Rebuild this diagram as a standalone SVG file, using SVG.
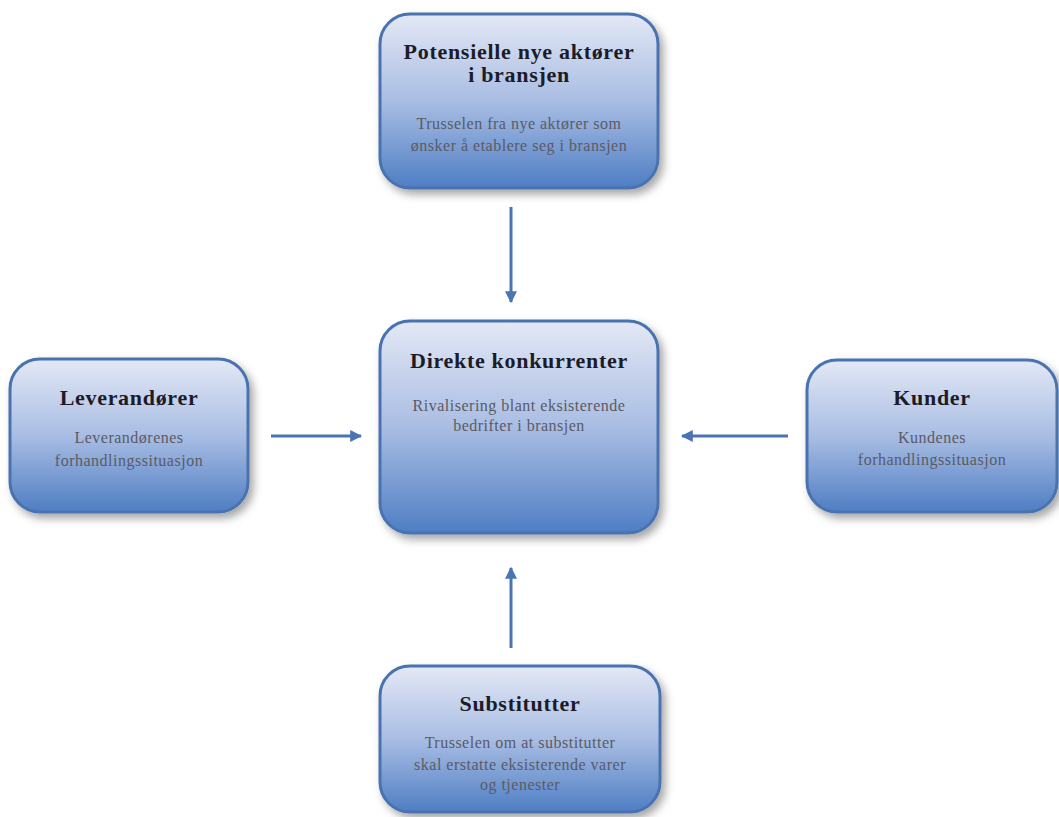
<svg xmlns="http://www.w3.org/2000/svg" width="1059" height="817" viewBox="0 0 1059 817">
<defs>
<linearGradient id="g" x1="0" y1="0" x2="0" y2="1">
<stop offset="0" stop-color="#e3e8f5"/>
<stop offset="0.5" stop-color="#a9bde3"/>
<stop offset="1" stop-color="#4e7ec4"/>
</linearGradient>
<filter id="sh" x="-10%" y="-10%" width="125%" height="130%">
<feDropShadow dx="4" dy="5" stdDeviation="4" flood-color="#000" flood-opacity="0.35"/>
</filter>
<marker id="ah" viewBox="0 0 10 10" refX="9" refY="5" markerWidth="4" markerHeight="4" orient="auto">
<path d="M0,0 L10,5 L0,10 z" fill="#4a74b4"/>
</marker>
<style>
.box{fill:url(#g);stroke:#4a72b0;stroke-width:3;filter:url(#sh)}
.t{font-family:"Liberation Serif",serif;font-weight:bold;font-size:22px;letter-spacing:0.7px;fill:#1c1c28;text-anchor:middle}
.s{font-family:"Liberation Serif",serif;font-size:16px;letter-spacing:0.5px;fill:#5a5a66;text-anchor:middle}
.c{stroke:#4a74b4;stroke-width:3;fill:none;marker-end:url(#ah)}
</style>
</defs>
<rect width="1059" height="817" fill="#fff"/>
<g id="connectors">
<line class="c" x1="511" y1="207" x2="511" y2="302"/>
<line class="c" x1="271" y1="436" x2="361" y2="436"/>
<line class="c" x1="788" y1="436" x2="682" y2="436"/>
<line class="c" x1="511" y1="648" x2="511" y2="568"/>
</g>
<g id="nye">
<rect class="box" x="380" y="14" width="278" height="174" rx="30"/>
<text class="t" x="519" y="59">Potensielle nye aktører</text>
<text class="t" x="519" y="82">i bransjen</text>
<text class="s" x="519" y="129">Trusselen fra nye aktører som</text>
<text class="s" x="519" y="151">ønsker å etablere seg i bransjen</text>
</g>
<g id="direkte">
<rect class="box" x="380" y="321" width="278" height="212" rx="30"/>
<text class="t" x="519" y="368">Direkte konkurrenter</text>
<text class="s" x="519" y="411">Rivalisering blant eksisterende</text>
<text class="s" x="519" y="431">bedrifter i bransjen</text>
</g>
<g id="leverandorer">
<rect class="box" x="10" y="359" width="238" height="153" rx="30"/>
<text class="t" x="129" y="405">Leverandører</text>
<text class="s" x="129" y="443">Leverandørenes</text>
<text class="s" x="129" y="466">forhandlingssituasjon</text>
</g>
<g id="kunder">
<rect class="box" x="807" y="360" width="250" height="152" rx="30"/>
<text class="t" x="932" y="405">Kunder</text>
<text class="s" x="932" y="443">Kundenes</text>
<text class="s" x="932" y="465">forhandlingssituasjon</text>
</g>
<g id="substitutter">
<rect class="box" x="380" y="666" width="280" height="146" rx="30"/>
<text class="t" x="520" y="711">Substitutter</text>
<text class="s" x="520" y="748">Trusselen om at substitutter</text>
<text class="s" x="520" y="770">skal erstatte eksisterende varer</text>
<text class="s" x="520" y="790">og tjenester</text>
</g>
</svg>
